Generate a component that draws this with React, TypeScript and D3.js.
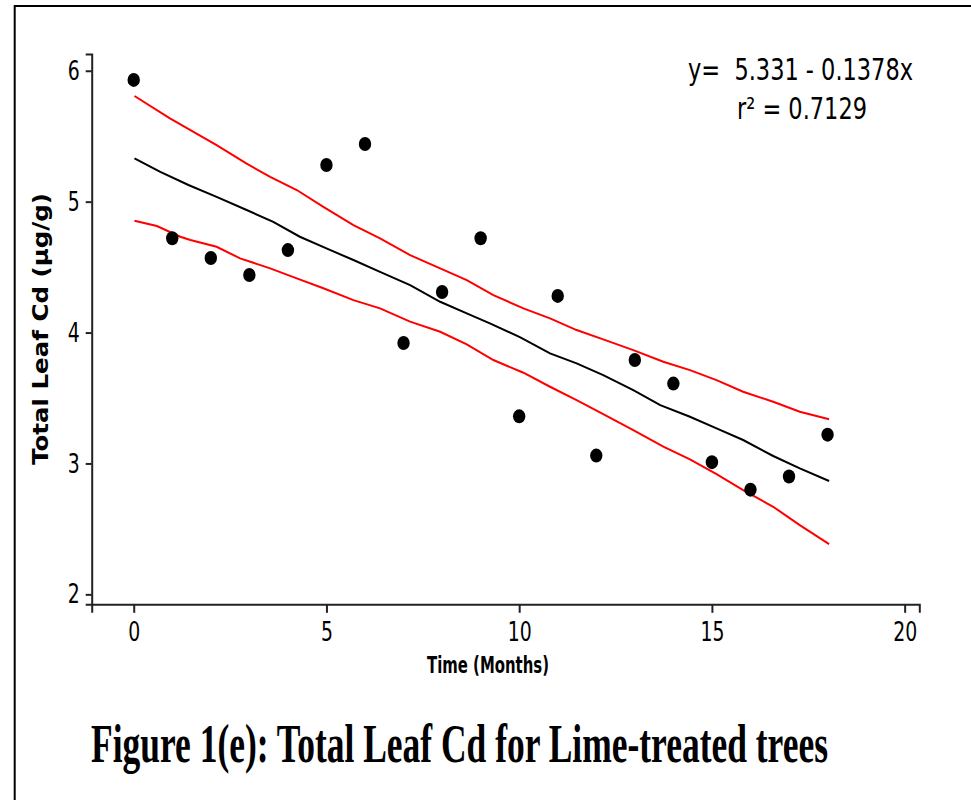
import { useEffect, useRef } from 'react';
import * as d3 from 'd3';

// observed points (month, total leaf Cd)
const months = [0, 1, 2, 3, 4, 5, 6, 7, 8, 9, 10, 11, 12, 13, 14, 15, 16, 17, 18];
const leafCd = [5.93, 4.72, 4.57, 4.44, 4.63, 5.28, 5.44, 3.92, 4.31, 4.72, 3.36, 4.28, 3.06, 3.79, 3.61, 3.01, 2.80, 2.90, 3.22];

// fitted line
const fitX = [0.02, 0.69, 1.42, 2.15, 2.93, 3.62, 4.31, 5.0, 5.7, 6.39, 7.17, 7.95, 8.64, 9.24, 10.03, 10.8, 11.49, 12.18, 12.96, 13.66, 14.43, 15.12, 15.81, 16.59, 17.28, 18.04];
const fitY = [5.331, 5.228, 5.127, 5.037, 4.936, 4.846, 4.732, 4.643, 4.554, 4.464, 4.363, 4.235, 4.147, 4.07, 3.963, 3.841, 3.765, 3.675, 3.561, 3.446, 3.357, 3.268, 3.179, 3.057, 2.963, 2.866];

// confidence band (red)
const bandX = [0.02, 0.94, 2.15, 2.93, 3.54, 4.23, 4.92, 5.7, 6.39, 7.17, 7.95, 8.64, 9.33, 10.11, 10.8, 11.49, 12.18, 12.96, 13.74, 14.43, 15.12, 15.81, 16.59, 17.28, 18.04];
const upperY = [5.807, 5.636, 5.432, 5.29, 5.19, 5.089, 4.96, 4.82, 4.72, 4.592, 4.49, 4.40, 4.286, 4.185, 4.108, 4.019, 3.948, 3.866, 3.777, 3.713, 3.637, 3.548, 3.471, 3.395, 3.337];
const lowerX = [0.02, 0.6, 1.21, 1.47, 2.15, 2.76, 3.54, 4.23, 4.92, 5.7, 6.39, 7.17, 7.95, 8.64, 9.33, 10.11, 10.8, 11.49, 12.18, 12.96, 13.74, 14.43, 15.12, 15.81, 16.59, 17.28, 18.04];
const lowerY = [4.854, 4.814, 4.732, 4.707, 4.655, 4.567, 4.49, 4.414, 4.338, 4.248, 4.185, 4.083, 4.006, 3.91, 3.79, 3.693, 3.586, 3.484, 3.377, 3.255, 3.128, 3.031, 2.919, 2.797, 2.669, 2.529, 2.384];

const xTicks = [0, 5, 10, 15, 20];
const yTicks = [2, 3, 4, 5, 6];

const eqLine1 = 'y=  5.331 - 0.1378x';
const eqLine2 = 'r\u00b2 = 0.7129';
const xLabel = 'Time (Months)';
const yLabel = 'Total Leaf Cd (\u00b5g/g)';
const caption = 'Figure 1(e): Total Leaf Cd for Lime-treated trees';

const sans = '"DejaVu Sans", sans-serif';

export default function App() {
  const svgRef = useRef<SVGSVGElement | null>(null);

  useEffect(() => {
    const svg = d3.select(svgRef.current);
    svg.selectAll('*').remove();

    const x = d3.scaleLinear().domain([-1.09, 20.38]).range([91.7, 919.3]);
    const y = d3.scaleLinear().domain([1.924, 6.128]).range([604.3, 54]);

    // outer frame (runs off the page right and bottom)
    svg.append('path')
      .attr('d', 'M14.7,800 V6 H971')
      .attr('fill', 'none')
      .attr('stroke', '#000')
      .attr('stroke-width', 2);

    // axes
    const gx = svg.append('g')
      .attr('transform', `translate(0,${y.range()[0]})`)
      .call(d3.axisBottom(x).tickValues(xTicks).tickFormat(d3.format('d')).tickSizeOuter(0).tickSize(8.5).tickPadding(9));
    const gy = svg.append('g')
      .attr('transform', `translate(${x.range()[0]},0)`)
      .call(d3.axisLeft(y).tickValues(yTicks).tickFormat(d3.format('d')).tickSizeOuter(0).tickSize(6).tickPadding(6));

    [gx, gy].forEach(g => {
      g.select('.domain').attr('stroke', '#222').attr('stroke-width', 2);
      g.selectAll('.tick line').attr('stroke', '#222').attr('stroke-width', 2);
      g.selectAll<SVGTextElement, number>('.tick text')
        .attr('fill', '#000')
        .style('font-family', sans)
        .style('font-size', '27px')
        .attr('textLength', function () { return (this.textContent || '').length * 12; })
        .attr('lengthAdjust', 'spacingAndGlyphs');
    });

    // band and fit
    const line = d3.line<[number, number]>()
      .x(d => x(d[0]))
      .y(d => y(d[1]));

    svg.append('path')
      .datum(bandX.map((v, i) => [v, upperY[i]] as [number, number]))
      .attr('fill', 'none')
      .attr('stroke', '#ff0000')
      .attr('stroke-width', 2)
      .attr('d', line);
    svg.append('path')
      .datum(lowerX.map((v, i) => [v, lowerY[i]] as [number, number]))
      .attr('fill', 'none')
      .attr('stroke', '#ff0000')
      .attr('stroke-width', 2)
      .attr('d', line);
    svg.append('path')
      .datum(fitX.map((v, i) => [v, fitY[i]] as [number, number]))
      .attr('fill', 'none')
      .attr('stroke', '#000')
      .attr('stroke-width', 2)
      .attr('d', line);

    // points
    svg.selectAll('.pt')
      .data(months)
      .enter()
      .append('ellipse')
      .attr('class', 'pt')
      .attr('cx', d => x(d))
      .attr('cy', (d, i) => y(leafCd[i]))
      .attr('rx', 6.2)
      .attr('ry', 7)
      .attr('fill', '#000');

    // equation
    svg.append('text')
      .attr('x', 688)
      .attr('y', 80)
      .attr('textLength', 225)
      .attr('lengthAdjust', 'spacingAndGlyphs')
      .style('font-family', sans)
      .style('font-size', '30px')
      .style('white-space', 'pre')
      .text(eqLine1);
    svg.append('text')
      .attr('x', 737)
      .attr('y', 119)
      .attr('textLength', 130)
      .attr('lengthAdjust', 'spacingAndGlyphs')
      .style('font-family', sans)
      .style('font-size', '30px')
      .text(eqLine2);

    // axis titles
    svg.append('text')
      .attr('x', 488)
      .attr('y', 673)
      .attr('text-anchor', 'middle')
      .attr('textLength', 122)
      .attr('lengthAdjust', 'spacingAndGlyphs')
      .style('font-family', sans)
      .style('font-weight', 'bold')
      .style('font-size', '23px')
      .text(xLabel);
    svg.append('text')
      .attr('transform', 'translate(48,329) rotate(-90)')
      .attr('text-anchor', 'middle')
      .attr('textLength', 272)
      .attr('lengthAdjust', 'spacingAndGlyphs')
      .style('font-family', sans)
      .style('font-weight', 'bold')
      .style('font-size', '21px')
      .text(yLabel);

    // caption
    svg.append('text')
      .attr('x', 91)
      .attr('y', 762)
      .attr('textLength', 737)
      .attr('lengthAdjust', 'spacingAndGlyphs')
      .style('font-family', '"Liberation Serif", "Times New Roman", serif')
      .style('font-weight', 'bold')
      .style('font-size', '55px')
      .text(caption);
  }, []);

  return (
    <svg
      ref={svgRef}
      width={971}
      height={800}
      style={{ position: 'absolute', left: 0, top: 0, background: '#fff' }}
    />
  );
}
